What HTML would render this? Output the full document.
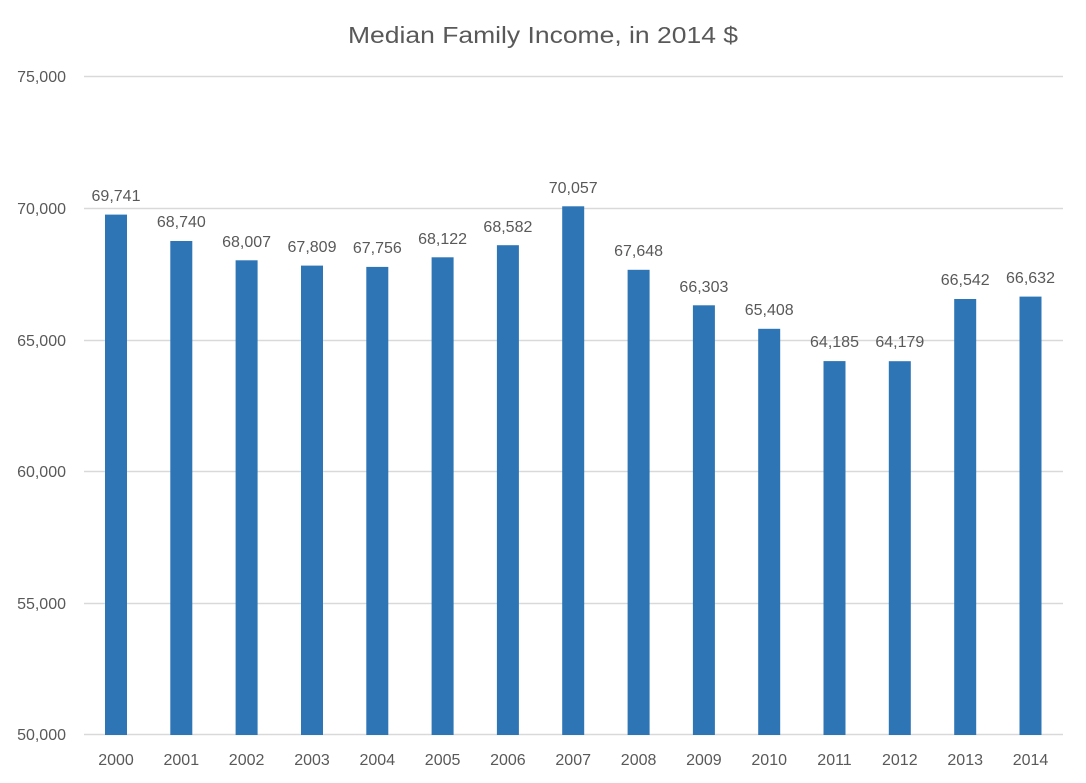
<!DOCTYPE html>
<html><head><meta charset="utf-8"><style>body{margin:0;background:#fff}svg{display:block}</style></head><body>
<svg width="1086" height="783" xmlns="http://www.w3.org/2000/svg" font-family="Liberation Sans, sans-serif" fill="#595959">
<rect width="1086" height="783" fill="#fff"/>
<text x="543" y="43" font-size="23" text-anchor="middle" textLength="390" lengthAdjust="spacingAndGlyphs">Median Family Income, in 2014 $</text>
<g stroke="#d9d9d9" stroke-width="1.5">
<line x1="84" x2="1063" y1="76.5" y2="76.5"/>
<line x1="84" x2="1063" y1="208.5" y2="208.5"/>
<line x1="84" x2="1063" y1="340.5" y2="340.5"/>
<line x1="84" x2="1063" y1="471.5" y2="471.5"/>
<line x1="84" x2="1063" y1="603.5" y2="603.5"/>
<line x1="84" x2="1063" y1="734.5" y2="734.5"/>
</g>
<g font-size="16" text-anchor="end">
<text x="66" y="82">75,000</text>
<text x="66" y="214">70,000</text>
<text x="66" y="346">65,000</text>
<text x="66" y="477">60,000</text>
<text x="66" y="609">55,000</text>
<text x="66" y="740">50,000</text>
</g>
<g fill="#2e75b6">
<rect x="105" y="214.6" width="22" height="520.4"/>
<rect x="170.3" y="241.0" width="22" height="494"/>
<rect x="235.6" y="260.3" width="22" height="474.7"/>
<rect x="301" y="265.6" width="22" height="469.4"/>
<rect x="366.3" y="266.9" width="22" height="468.1"/>
<rect x="431.6" y="257.3" width="22" height="477.7"/>
<rect x="496.9" y="245.2" width="22" height="489.8"/>
<rect x="562.2" y="206.3" width="22" height="528.7"/>
<rect x="627.6" y="269.8" width="22" height="465.2"/>
<rect x="692.9" y="305.3" width="22" height="429.7"/>
<rect x="758.2" y="328.8" width="22" height="406.2"/>
<rect x="823.5" y="361.1" width="22" height="373.9"/>
<rect x="888.8" y="361.2" width="22" height="373.8"/>
<rect x="954.2" y="299.0" width="22" height="436"/>
<rect x="1019.5" y="296.6" width="22" height="438.4"/>
</g>
<g font-size="16" text-anchor="middle">
<text x="116" y="201">69,741</text>
<text x="181.3" y="227">68,740</text>
<text x="246.6" y="247">68,007</text>
<text x="312" y="252">67,809</text>
<text x="377.3" y="253">67,756</text>
<text x="442.6" y="244">68,122</text>
<text x="507.9" y="232">68,582</text>
<text x="573.2" y="193">70,057</text>
<text x="638.6" y="256">67,648</text>
<text x="703.9" y="292">66,303</text>
<text x="769.2" y="315">65,408</text>
<text x="834.5" y="347">64,185</text>
<text x="899.8" y="347">64,179</text>
<text x="965.2" y="285">66,542</text>
<text x="1030.5" y="283">66,632</text>
</g>
<g font-size="16" text-anchor="middle">
<text x="116" y="765">2000</text>
<text x="181.3" y="765">2001</text>
<text x="246.6" y="765">2002</text>
<text x="312" y="765">2003</text>
<text x="377.3" y="765">2004</text>
<text x="442.6" y="765">2005</text>
<text x="507.9" y="765">2006</text>
<text x="573.2" y="765">2007</text>
<text x="638.6" y="765">2008</text>
<text x="703.9" y="765">2009</text>
<text x="769.2" y="765">2010</text>
<text x="834.5" y="765">2011</text>
<text x="899.8" y="765">2012</text>
<text x="965.2" y="765">2013</text>
<text x="1030.5" y="765">2014</text>
</g>
</svg>
</body></html>
